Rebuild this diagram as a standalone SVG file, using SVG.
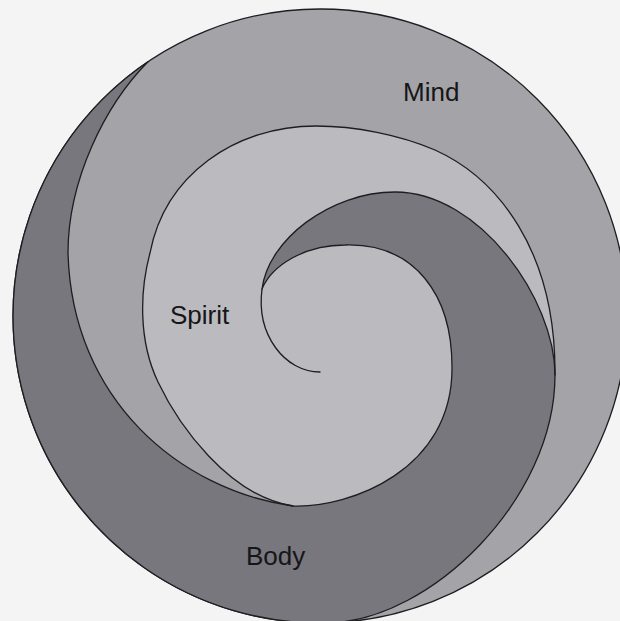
<svg xmlns="http://www.w3.org/2000/svg" width="620" height="621" viewBox="0 0 620 621">
  <style>
    .edge { stroke: #1e1e22; stroke-width: 1.3; stroke-linejoin: round; stroke-linecap: round; }
    .line { fill: none; stroke: #1e1e22; stroke-width: 1.3; stroke-linecap: round; }
    .mind { fill: #a4a4a8; }
    .body { fill: #77777d; }
    .spirit { fill: #bbbabf; }
    .label { font-family: "Liberation Sans", Arial, Helvetica, sans-serif; font-size: 26px; fill: #161618; }
  </style>
  <rect x="0" y="0" width="620" height="621" fill="#f4f4f4"/>

  <g id="mind">
    <circle class="mind edge" cx="320" cy="316" r="307"/>
    <text class="label" x="403" y="101">Mind</text>
  </g>

  <g id="spirit">
    <path class="spirit" d="M 555 375 C 556 250 497 178 435 150 C 400 135 355 126 316 126 C 235 126 165 175 150 253 C 140 290 138 340 158 382 C 178 424 228 496 293 506 C 350 508 453 470 452 367 L 555 375 Z"/>
  </g>

  <g id="body">
    <path class="body edge" d="M 148 61.7 A 307 307 0 0 0 330 622.8 C 430 620 555 500 555 375 C 555 300 480 192 395 192 C 330 192 268 240 262 289 C 272 265 305 245 345 245 C 415 243 452 295 452 367 C 453 470 350 508 293 506 C 180 490 72 400 68 253 C 68 180 105 105 148 61.7 Z"/>
    <text class="label" x="246" y="565">Body</text>
  </g>

  <g id="connectors">
    <path class="line" d="M 555 375 C 556 250 497 178 435 150 C 400 135 355 126 316 126 C 235 126 165 175 150 253 C 140 290 138 340 158 382 C 178 424 228 496 293 506"/>
    <path class="line" d="M 262 289 C 256 335 285 372 320 372"/>
  </g>

  <g id="spirit-label">
    <text class="label" x="170" y="324">Spirit</text>
  </g>
</svg>
